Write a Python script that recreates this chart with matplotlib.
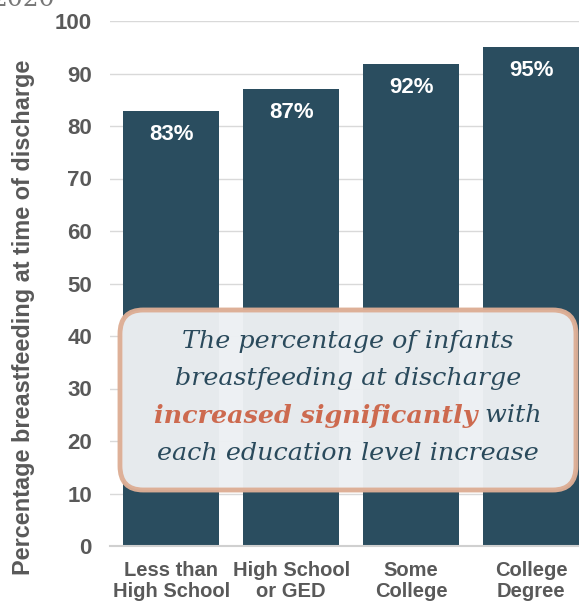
import matplotlib
matplotlib.use("Agg")
import matplotlib.pyplot as plt
from matplotlib.patches import FancyBboxPatch

# --- данные ---
categories = ["Less than\nHigh School", "High School\nor GED", "Some\nCollege", "College\nDegree"]
values = [82.8, 87.1, 91.9, 95.0]
value_labels = ["83%", "87%", "92%", "95%"]
y_ticks = [0, 10, 20, 30, 40, 50, 60, 70, 80, 90, 100]

bar_color = "#2A4D5F"
gray_text = "#595959"
note_color = "#2A4A5C"
accent = "#CD6A4F"

plt.rcParams['font.family'] = ['Liberation Sans', 'DejaVu Sans']

fig = plt.figure(figsize=(5.79, 6.01), dpi=100)
ax = fig.add_axes([110 / 579, 1 - 546 / 601, 1 - 110 / 579, (546 - 21) / 601])

x = list(range(len(categories)))
bars = ax.bar(x, values, width=0.8, color=bar_color, zorder=2)

ax.set_xlim(-0.51, 3.4)
ax.set_ylim(0, 100)
ax.set_yticks(y_ticks)
ax.set_yticklabels([str(t) for t in y_ticks], fontsize=16, fontweight='bold', color=gray_text)
ax.set_xticks(x)
ax.set_xticklabels(categories, fontsize=14.5, fontweight='bold', color=gray_text, linespacing=1.1)
ax.tick_params(axis='y', length=0, pad=13)
ax.tick_params(axis='x', length=0, pad=11)

ax.grid(axis='y', color='#D9D9D9', linewidth=1, zorder=0)
ax.set_axisbelow(True)
for s in ['top', 'right', 'left']:
    ax.spines[s].set_visible(False)
ax.spines['bottom'].set_color('#D0D0D0')
ax.spines['bottom'].set_linewidth(1.5)

# подпись оси Y
fig.text(24 / 579, 1 - 317 / 601, "Percentage breastfeeding at time of discharge",
         rotation=90, ha='center', va='center', fontsize=16.9, fontweight='bold', color=gray_text)

# подписи на столбцах
for xi, v, lab in zip(x, values, value_labels):
    ax.annotate(lab, (xi, v), xytext=(0, -17), textcoords='offset points',
                ha='center', va='center', color='white', fontsize=16, fontweight='bold', zorder=3)

# обрезанный заголовок сверху
fig.text(55 / 579, 1.0, "2020", ha='right', va='center', fontsize=18,
         family='DejaVu Serif', color='#777777')

# --- блок с выводом ---
box_l, box_b, box_w, box_h = 120 / 579, 1 - 490 / 601, 456 / 579, 180 / 601
box = FancyBboxPatch((box_l, box_b), box_w, box_h,
                     boxstyle="round,pad=0,rounding_size=0.04",
                     transform=fig.transFigure, facecolor='#EDF0F3', alpha=0.97,
                     edgecolor='#DDAE95', linewidth=3.5, zorder=5)
fig.patches.append(box)

cx = 348 / 579
serif = dict(family='DejaVu Serif', style='italic', fontsize=18.3, zorder=6)
fig.text(cx, 1 - 341 / 601, "The percentage of infants", ha='center', va='center', color=note_color, **serif)
fig.text(cx, 1 - 379 / 601, "breastfeeding at discharge", ha='center', va='center', color=note_color, **serif)
fig.text(cx, 1 - 454 / 601, "each education level increase", ha='center', va='center', color=note_color, **serif)

# строка с выделением
renderer = fig.canvas.get_renderer()
t1 = fig.text(0, 1 - 416 / 601, "increased significantly", ha='left', va='center',
              color=accent, fontweight='bold', **serif)
t2 = fig.text(0, 1 - 416 / 601, " with", ha='left', va='center', color=note_color, **serif)
w1 = t1.get_window_extent(renderer).width / fig.bbox.width
w2 = t2.get_window_extent(renderer).width / fig.bbox.width
start = cx - (w1 + w2) / 2
t1.set_x(start)
t2.set_x(start + w1)

fig.savefig("out.png", dpi=100)
